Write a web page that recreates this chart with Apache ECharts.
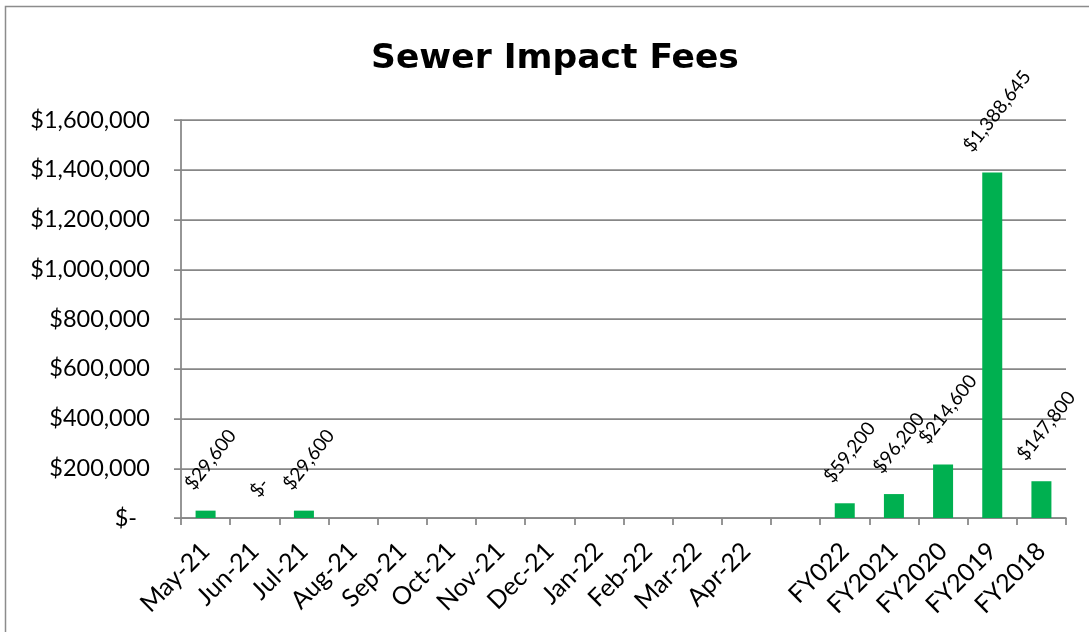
<!DOCTYPE html>
<html><head><meta charset="utf-8">
<script src="https://cdn.jsdelivr.net/npm/echarts@6/dist/echarts.min.js"></script>
<style>html,body{margin:0;padding:0;background:#fff}#c{width:1089px;height:632px}</style>
</head><body><div id="c"></div>
<script>
const categories = ['May-21','Jun-21','Jul-21','Aug-21','Sep-21','Oct-21','Nov-21','Dec-21','Jan-22','Feb-22','Mar-22','Apr-22','','FY022','FY2021','FY2020','FY2019','FY2018'];
const fees = [29600, 0, 29600, null, null, null, null, null, null, null, null, null, null, 59200, 96200, 214600, 1388645, 147800];
const yTicks = {min: 0, max: 1600000, interval: 200000};

const FONT = 'Lato';
const LABEL_SIZE = 19;
const LABEL_ROT = 52;
const LABEL_GAP = 11;
function money(v){ return v === 0 ? '$-' : '$' + v.toLocaleString('en-US'); }

// measure rotated label extents so the label box sits a fixed gap above its bar
const cv = document.createElement('canvas').getContext('2d');
cv.font = LABEL_SIZE + 'px ' + FONT;
function labelDistance(v){
  const L = cv.measureText(money(v)).width;
  const a = LABEL_ROT * Math.PI / 180;
  return LABEL_GAP + (L / 2) * Math.sin(a) + (LABEL_SIZE / 2) * Math.cos(a);
}
const barData = fees.map(v => v == null ? {value: null} : {value: v, label: {distance: labelDistance(v)}});

const gray = '#878787';
const chart = echarts.init(document.getElementById('c'));
chart.setOption({
  animation: false,
  textStyle: {fontFamily: FONT},
  graphic: [{type:'rect', shape:{x:5.5, y:6.5, width:1100, height:700}, style:{fill:null, stroke:'#8c8c8c', lineWidth:1.5}, silent:true}],
  title: {text: 'Sewer Impact Fees', left: 550, top: 37, textAlign: 'center',
    textStyle:{fontFamily: 'DejaVu Sans', fontWeight:'bold', fontSize: 34.5, color:'#000'}},
  grid: {left: 181, right: 23, top: 120, bottom: 114},
  xAxis: {
    type: 'category', data: categories,
    axisLine: {lineStyle:{color:gray, width:1.75}},
    axisTick: {show:true, length:7, lineStyle:{color:gray, width:1.75}},
    axisLabel: {rotate: 45, margin: 29, fontSize: 25, color:'#000', fontFamily: FONT, interval: 0}
  },
  yAxis: {
    type: 'value', min: yTicks.min, max: yTicks.max, interval: yTicks.interval,
    axisLine: {show:true, lineStyle:{color:gray, width:1.75}},
    axisTick: {show:true, length:7, lineStyle:{color:gray, width:1.75}},
    splitLine: {lineStyle:{color:gray, width:1.75}},
    axisLabel: {margin: 31, fontSize: 23.5, color:'#000', fontFamily: FONT,
      formatter: v => v === 0 ? '{z|$-}' : money(v),
      rich: {z: {fontSize: 23.5, fontFamily: FONT, color:'#000', padding:[0,13,0,0]}}}
  },
  series: [{
    type: 'bar', data: barData, barWidth: 20,
    itemStyle: {color: '#00b050'},
    label: {show: true, position: 'top', offset: [8, 0], rotate: LABEL_ROT, align: 'center', verticalAlign: 'middle',
      fontSize: LABEL_SIZE, color:'#000', fontFamily: FONT,
      formatter: p => p.value == null ? '' : money(p.value)}
  }]
});
</script></body></html>
